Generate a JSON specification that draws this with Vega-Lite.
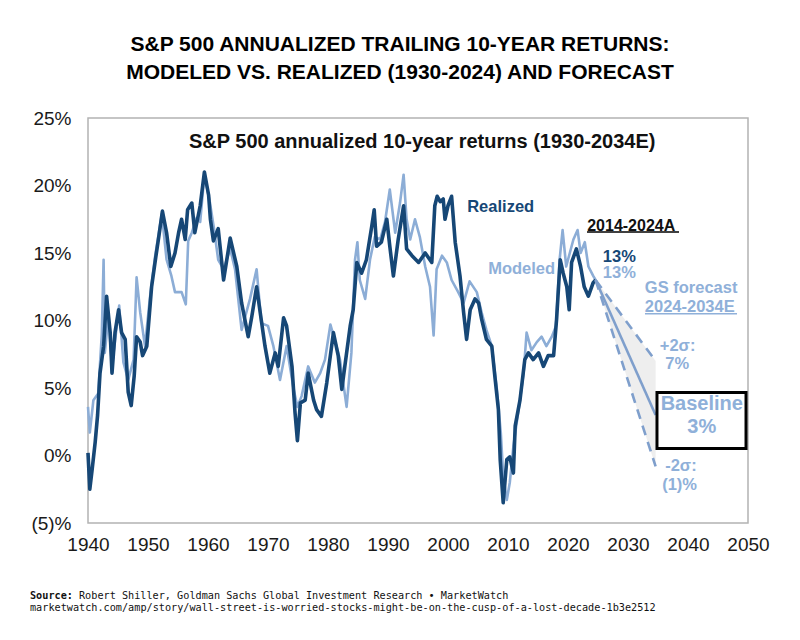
{
  "$schema": "https://vega.github.io/schema/vega-lite/v6.json",
  "width": 660,
  "height": 405,
  "autosize": {"type": "none"},
  "padding": {"left": 88, "top": 118, "right": 52, "bottom": 117},
  "background": "white",
  "config": {
    "view": {"stroke": "#b3b3b3", "strokeWidth": 1.5},
    "font": "Liberation Sans"
  },
  "title": {
    "text": ["S&P 500 ANNUALIZED TRAILING 10-YEAR RETURNS:", "MODELED VS. REALIZED (1930-2024) AND FORECAST"],
    "font": "Liberation Sans",
    "fontSize": 21,
    "fontWeight": "bold",
    "color": "#000000",
    "anchor": "middle",
    "frame": "group",
    "dx": -18,
    "offset": 26,
    "lineHeight": 28
  },
  "datasets": {
    "realized": [
      {"year": 1940.0, "pct": 0.2}, {"year": 1940.3, "pct": -2.5}, {"year": 1940.7, "pct": -1.0}, {"year": 1941.2, "pct": 1.0},
      {"year": 1941.6, "pct": 3.0}, {"year": 1942.0, "pct": 6.1}, {"year": 1942.6, "pct": 8.1}, {"year": 1943.1, "pct": 11.8},
      {"year": 1943.7, "pct": 9.1}, {"year": 1944.0, "pct": 6.1}, {"year": 1944.5, "pct": 9.1}, {"year": 1945.1, "pct": 10.8},
      {"year": 1945.6, "pct": 9.1}, {"year": 1946.2, "pct": 8.6}, {"year": 1946.7, "pct": 4.7}, {"year": 1947.2, "pct": 3.7},
      {"year": 1947.7, "pct": 5.9}, {"year": 1948.1, "pct": 8.8}, {"year": 1948.7, "pct": 8.4}, {"year": 1949.1, "pct": 7.4},
      {"year": 1949.8, "pct": 8.1}, {"year": 1950.6, "pct": 12.5}, {"year": 1951.3, "pct": 14.7}, {"year": 1951.8, "pct": 16.2},
      {"year": 1952.4, "pct": 18.1}, {"year": 1953.1, "pct": 16.5}, {"year": 1953.8, "pct": 14.0}, {"year": 1954.5, "pct": 15.0},
      {"year": 1955.1, "pct": 16.5}, {"year": 1955.6, "pct": 17.5}, {"year": 1956.2, "pct": 16.0}, {"year": 1956.6, "pct": 18.2},
      {"year": 1957.3, "pct": 18.7}, {"year": 1957.8, "pct": 16.5}, {"year": 1958.7, "pct": 18.5}, {"year": 1959.4, "pct": 21.0},
      {"year": 1960.1, "pct": 19.3}, {"year": 1960.4, "pct": 17.5}, {"year": 1960.9, "pct": 15.9}, {"year": 1961.7, "pct": 16.8},
      {"year": 1962.6, "pct": 13.0}, {"year": 1963.7, "pct": 16.1}, {"year": 1964.8, "pct": 14.0}, {"year": 1965.6, "pct": 11.3},
      {"year": 1966.7, "pct": 8.8}, {"year": 1967.3, "pct": 10.3}, {"year": 1968.1, "pct": 12.5}, {"year": 1968.7, "pct": 10.6},
      {"year": 1969.5, "pct": 8.1}, {"year": 1970.3, "pct": 6.1}, {"year": 1971.2, "pct": 7.6}, {"year": 1971.7, "pct": 6.6},
      {"year": 1972.6, "pct": 10.2}, {"year": 1973.1, "pct": 9.6}, {"year": 1974.0, "pct": 6.6}, {"year": 1974.5, "pct": 3.2},
      {"year": 1974.9, "pct": 1.1}, {"year": 1975.4, "pct": 3.9}, {"year": 1976.2, "pct": 4.1}, {"year": 1976.7, "pct": 6.1},
      {"year": 1977.6, "pct": 4.1}, {"year": 1978.1, "pct": 3.4}, {"year": 1978.9, "pct": 2.9}, {"year": 1979.8, "pct": 5.4},
      {"year": 1980.9, "pct": 9.1}, {"year": 1981.7, "pct": 7.4}, {"year": 1982.3, "pct": 4.9}, {"year": 1982.8, "pct": 6.6},
      {"year": 1983.7, "pct": 9.6}, {"year": 1984.2, "pct": 10.8}, {"year": 1984.8, "pct": 14.3}, {"year": 1985.6, "pct": 13.5},
      {"year": 1986.4, "pct": 14.5}, {"year": 1987.3, "pct": 17.0}, {"year": 1987.7, "pct": 18.2}, {"year": 1988.1, "pct": 15.5},
      {"year": 1988.9, "pct": 15.8}, {"year": 1989.8, "pct": 17.5}, {"year": 1990.3, "pct": 15.5}, {"year": 1990.9, "pct": 13.3},
      {"year": 1991.7, "pct": 16.0}, {"year": 1992.6, "pct": 18.5}, {"year": 1993.1, "pct": 15.3}, {"year": 1994.0, "pct": 14.8},
      {"year": 1995.1, "pct": 14.3}, {"year": 1996.2, "pct": 15.0}, {"year": 1997.3, "pct": 14.3}, {"year": 1997.8, "pct": 18.5},
      {"year": 1998.2, "pct": 19.2}, {"year": 1998.7, "pct": 18.8}, {"year": 1999.2, "pct": 19.0}, {"year": 1999.5, "pct": 17.5},
      {"year": 2000.0, "pct": 18.5}, {"year": 2000.6, "pct": 19.2}, {"year": 2001.2, "pct": 15.8}, {"year": 2002.0, "pct": 13.3},
      {"year": 2002.6, "pct": 10.6}, {"year": 2003.1, "pct": 8.6}, {"year": 2003.7, "pct": 10.8}, {"year": 2004.5, "pct": 11.6},
      {"year": 2005.1, "pct": 11.3}, {"year": 2005.6, "pct": 10.1}, {"year": 2006.4, "pct": 8.6}, {"year": 2007.3, "pct": 8.1},
      {"year": 2007.8, "pct": 5.9}, {"year": 2008.4, "pct": 3.4}, {"year": 2008.7, "pct": -0.3}, {"year": 2009.2, "pct": -3.5},
      {"year": 2009.8, "pct": -0.3}, {"year": 2010.3, "pct": -0.1}, {"year": 2010.9, "pct": -1.3}, {"year": 2011.2, "pct": 2.2},
      {"year": 2012.0, "pct": 4.1}, {"year": 2012.8, "pct": 7.1}, {"year": 2013.4, "pct": 7.6}, {"year": 2014.2, "pct": 7.1},
      {"year": 2015.1, "pct": 7.6}, {"year": 2015.9, "pct": 6.6}, {"year": 2016.7, "pct": 7.4}, {"year": 2017.6, "pct": 7.4},
      {"year": 2018.1, "pct": 10.1}, {"year": 2018.7, "pct": 14.5}, {"year": 2019.2, "pct": 13.5}, {"year": 2019.8, "pct": 12.5},
      {"year": 2020.2, "pct": 10.8}, {"year": 2020.6, "pct": 14.3}, {"year": 2021.4, "pct": 15.3}, {"year": 2022.1, "pct": 14.0},
      {"year": 2022.7, "pct": 12.5}, {"year": 2023.4, "pct": 11.8}, {"year": 2024.2, "pct": 12.8}, {"year": 2024.6, "pct": 13.0}
    ],
    "modeled": [
      {"year": 1940.0, "pct": 3.6}, {"year": 1940.3, "pct": 1.7}, {"year": 1940.9, "pct": 4.1}, {"year": 1941.7, "pct": 4.6},
      {"year": 1942.3, "pct": 9.0}, {"year": 1942.6, "pct": 14.5}, {"year": 1942.8, "pct": 7.6}, {"year": 1943.4, "pct": 10.3},
      {"year": 1944.0, "pct": 6.6}, {"year": 1944.8, "pct": 9.6}, {"year": 1945.2, "pct": 11.1}, {"year": 1945.9, "pct": 6.9},
      {"year": 1946.7, "pct": 5.6}, {"year": 1947.6, "pct": 7.1}, {"year": 1948.1, "pct": 13.2}, {"year": 1948.7, "pct": 10.6},
      {"year": 1949.5, "pct": 8.1}, {"year": 1950.3, "pct": 11.6}, {"year": 1951.2, "pct": 14.8}, {"year": 1952.3, "pct": 17.9},
      {"year": 1953.1, "pct": 14.5}, {"year": 1953.9, "pct": 13.3}, {"year": 1954.5, "pct": 12.1}, {"year": 1955.6, "pct": 12.1},
      {"year": 1956.3, "pct": 11.2}, {"year": 1956.7, "pct": 15.9}, {"year": 1957.3, "pct": 16.5}, {"year": 1958.1, "pct": 17.6},
      {"year": 1958.7, "pct": 17.3}, {"year": 1959.4, "pct": 20.8}, {"year": 1960.3, "pct": 18.8}, {"year": 1961.0, "pct": 16.8},
      {"year": 1961.7, "pct": 14.5}, {"year": 1962.6, "pct": 13.8}, {"year": 1963.7, "pct": 15.3}, {"year": 1964.5, "pct": 13.8},
      {"year": 1965.6, "pct": 9.3}, {"year": 1967.0, "pct": 11.6}, {"year": 1968.1, "pct": 13.8}, {"year": 1968.9, "pct": 9.8},
      {"year": 1970.0, "pct": 9.6}, {"year": 1970.9, "pct": 8.1}, {"year": 1972.0, "pct": 5.6}, {"year": 1973.1, "pct": 8.1},
      {"year": 1974.2, "pct": 5.1}, {"year": 1974.9, "pct": 3.6}, {"year": 1975.6, "pct": 4.4}, {"year": 1976.7, "pct": 6.6},
      {"year": 1977.8, "pct": 5.4}, {"year": 1978.7, "pct": 6.1}, {"year": 1979.5, "pct": 7.1}, {"year": 1980.4, "pct": 9.7},
      {"year": 1981.4, "pct": 8.1}, {"year": 1982.0, "pct": 7.1}, {"year": 1983.1, "pct": 3.6}, {"year": 1983.9, "pct": 7.6},
      {"year": 1984.5, "pct": 14.5}, {"year": 1984.9, "pct": 15.8}, {"year": 1985.3, "pct": 13.0}, {"year": 1986.2, "pct": 11.6},
      {"year": 1987.0, "pct": 14.5}, {"year": 1987.8, "pct": 16.2}, {"year": 1988.7, "pct": 16.0}, {"year": 1989.5, "pct": 17.3},
      {"year": 1990.3, "pct": 19.7}, {"year": 1991.2, "pct": 16.5}, {"year": 1992.0, "pct": 18.7}, {"year": 1992.6, "pct": 20.8},
      {"year": 1993.1, "pct": 17.5}, {"year": 1993.7, "pct": 16.0}, {"year": 1994.5, "pct": 17.5}, {"year": 1995.3, "pct": 16.2},
      {"year": 1996.2, "pct": 14.0}, {"year": 1997.0, "pct": 12.5}, {"year": 1997.6, "pct": 8.9}, {"year": 1998.1, "pct": 13.8},
      {"year": 1999.0, "pct": 14.8}, {"year": 1999.8, "pct": 14.3}, {"year": 2000.6, "pct": 13.0}, {"year": 2001.7, "pct": 12.1},
      {"year": 2002.6, "pct": 11.3}, {"year": 2003.6, "pct": 12.9}, {"year": 2004.8, "pct": 12.1}, {"year": 2005.6, "pct": 10.6},
      {"year": 2006.4, "pct": 9.3}, {"year": 2007.3, "pct": 8.1}, {"year": 2008.1, "pct": 5.1}, {"year": 2008.8, "pct": 1.7},
      {"year": 2009.2, "pct": -1.5}, {"year": 2009.8, "pct": -3.3}, {"year": 2010.3, "pct": -2.0}, {"year": 2010.9, "pct": 0.7},
      {"year": 2011.7, "pct": 3.2}, {"year": 2012.6, "pct": 6.1}, {"year": 2013.1, "pct": 9.1}, {"year": 2013.9, "pct": 7.8},
      {"year": 2014.8, "pct": 8.4}, {"year": 2015.6, "pct": 8.8}, {"year": 2016.4, "pct": 8.1}, {"year": 2017.3, "pct": 8.8},
      {"year": 2018.0, "pct": 9.6}, {"year": 2018.6, "pct": 14.5}, {"year": 2019.1, "pct": 16.7}, {"year": 2019.7, "pct": 14.0},
      {"year": 2020.3, "pct": 15.0}, {"year": 2020.9, "pct": 16.0}, {"year": 2021.6, "pct": 16.7}, {"year": 2022.1, "pct": 15.0},
      {"year": 2022.8, "pct": 15.8}, {"year": 2023.4, "pct": 14.0}, {"year": 2024.2, "pct": 13.3}, {"year": 2024.6, "pct": 13.0}
    ],
    "forecast": [
      {"year": 2024.6, "base": 13.0, "upper": 13.0, "lower": 13.0},
      {"year": 2034.6, "base": 3.0, "upper": 7.0, "lower": -0.8}
    ],
    "labels": [
      {"kind": "panel", "year": 1995.7, "pct": 23.2, "text": "S&P 500 annualized 10-year returns (1930-2034E)"},
      {"kind": "dark", "year": 2003.2, "pct": 18.4, "text": "Realized"},
      {"kind": "light", "year": 2006.7, "pct": 13.8, "text": "Modeled"},
      {"kind": "black", "year": 2023.2, "pct": 17.0, "text": "2014-2024A"},
      {"kind": "dark", "year": 2025.8, "pct": 14.7, "text": "13%"},
      {"kind": "light", "year": 2025.8, "pct": 13.5, "text": "13%"},
      {"kind": "light", "year": 2032.8, "pct": 12.4, "text": "GS forecast"},
      {"kind": "light", "year": 2032.8, "pct": 11.0, "text": "2024-2034E"},
      {"kind": "light", "year": 2035.3, "pct": 8.1, "text": "+2σ:"},
      {"kind": "light", "year": 2036.2, "pct": 6.8, "text": "7%"},
      {"kind": "box", "year": 2042.3, "pct": 3.85, "text": "Baseline"},
      {"kind": "box", "year": 2042.3, "pct": 2.1, "text": "3%"},
      {"kind": "light", "year": 2036.2, "pct": -0.8, "text": "-2σ:"},
      {"kind": "light", "year": 2035.7, "pct": -2.2, "text": "(1)%"},
      {"kind": "srcbold", "year": 1930.33, "pct": -10.44, "text": "Source:"},
      {"kind": "src1", "year": 1930.33, "pct": -10.44, "text": "Robert Shiller, Goldman Sachs Global Investment Research • MarketWatch"},
      {"kind": "src2", "year": 1930.33, "pct": -11.33, "text": "marketwatch.com/amp/story/wall-street-is-worried-stocks-might-be-on-the-cusp-of-a-lost-decade-1b3e2512"}
    ]
  },
  "encoding": {
    "x": {
      "field": "year",
      "type": "quantitative",
      "scale": {"domain": [1940, 2050], "nice": false, "zero": false},
      "axis": {
        "title": null,
        "values": [1940, 1950, 1960, 1970, 1980, 1990, 2000, 2010, 2020, 2030, 2040, 2050],
        "format": "d",
        "grid": false,
        "ticks": false,
        "domain": false,
        "labelFont": "Liberation Sans",
        "labelFontSize": 19,
        "labelColor": "#1a1a1a",
        "labelPadding": 12,
        "labelFlush": false,
        "labelOverlap": false,
        "labelBound": false
      }
    },
    "y": {
      "field": "pct",
      "type": "quantitative",
      "scale": {"domain": [-5, 25], "nice": false, "zero": false},
      "axis": {
        "title": null,
        "values": [-5, 0, 5, 10, 15, 20, 25],
        "labelExpr": "datum.value < 0 ? '(' + abs(datum.value) + ')%' : datum.value + '%'",
        "grid": false,
        "ticks": false,
        "domain": false,
        "labelFont": "Liberation Sans",
        "labelFontSize": 19,
        "labelColor": "#1a1a1a",
        "labelPadding": 17,
        "labelFlush": false,
        "labelOverlap": false,
        "labelBound": false
      }
    }
  },
  "layer": [
    {
      "data": {"name": "forecast"},
      "mark": {"type": "area", "color": "#eeeeee", "opacity": 1},
      "encoding": {"y": {"field": "upper", "type": "quantitative"}, "y2": {"field": "lower"}}
    },
    {
      "data": {"values": [{"pct": 0}]},
      "mark": {"type": "rule", "color": "#a6a6a6", "strokeWidth": 1.3},
      "encoding": {"x": {"datum": 1940}, "x2": {"datum": 2050}, "y": {"datum": 0}}
    },
    {
      "data": {"name": "modeled"},
      "mark": {"type": "line", "color": "#8cadd6", "strokeWidth": 2.6, "strokeJoin": "round"},
      "encoding": {}
    },
    {
      "data": {"name": "realized"},
      "mark": {"type": "line", "color": "#164776", "strokeWidth": 3.6, "strokeJoin": "round"},
      "encoding": {}
    },
    {
      "data": {"name": "forecast"},
      "mark": {"type": "line", "color": "#7f9fcc", "strokeWidth": 2.6},
      "encoding": {"y": {"field": "base", "type": "quantitative"}}
    },
    {
      "data": {"name": "forecast"},
      "mark": {"type": "line", "color": "#7f9fcc", "strokeWidth": 2.6, "strokeDash": [10, 7]},
      "encoding": {"y": {"field": "upper", "type": "quantitative"}}
    },
    {
      "data": {"name": "forecast"},
      "mark": {"type": "line", "color": "#7f9fcc", "strokeWidth": 2.6, "strokeDash": [10, 7]},
      "encoding": {"y": {"field": "lower", "type": "quantitative"}}
    },
    {
      "data": {"values": [{"year": 2034.83, "year2": 2049.67, "pct": 4.67, "pct2": 0.52}]},
      "mark": {"type": "rect", "fill": "white", "stroke": "#000000", "strokeWidth": 3},
      "encoding": {"x2": {"field": "year2"}, "y2": {"field": "pct2"}}
    },
    {
      "data": {"values": [{"year": 2023.17, "year2": 2038.5, "pct": 16.55}]},
      "mark": {"type": "rule", "color": "#000000", "strokeWidth": 1.5},
      "encoding": {"x2": {"field": "year2"}}
    },
    {
      "data": {"values": [{"year": 2032.83, "year2": 2048.17, "pct": 10.5}]},
      "mark": {"type": "rule", "color": "#8fb0d9", "strokeWidth": 1.5},
      "encoding": {"x2": {"field": "year2"}}
    },
    {
      "data": {"name": "labels"},
      "transform": [{"filter": "datum.kind === 'panel'"}],
      "mark": {"type": "text", "align": "center", "baseline": "middle", "font": "Liberation Sans", "fontWeight": "bold", "fontSize": 20, "color": "#111111"},
      "encoding": {"text": {"field": "text"}}
    },
    {
      "data": {"name": "labels"},
      "transform": [{"filter": "datum.kind === 'dark'"}],
      "mark": {"type": "text", "align": "left", "baseline": "middle", "font": "Liberation Sans", "fontWeight": "bold", "fontSize": 16.5, "color": "#164776"},
      "encoding": {"text": {"field": "text"}}
    },
    {
      "data": {"name": "labels"},
      "transform": [{"filter": "datum.kind === 'light'"}],
      "mark": {"type": "text", "align": "left", "baseline": "middle", "font": "Liberation Sans", "fontWeight": "bold", "fontSize": 16.5, "color": "#8fb0d9"},
      "encoding": {"text": {"field": "text"}}
    },
    {
      "data": {"name": "labels"},
      "transform": [{"filter": "datum.kind === 'black'"}],
      "mark": {"type": "text", "align": "left", "baseline": "middle", "font": "Liberation Sans", "fontWeight": "bold", "fontSize": 16, "color": "#111111"},
      "encoding": {"text": {"field": "text"}}
    },
    {
      "data": {"name": "labels"},
      "transform": [{"filter": "datum.kind === 'box'"}],
      "mark": {"type": "text", "align": "center", "baseline": "middle", "font": "Liberation Sans", "fontWeight": "bold", "fontSize": 20, "color": "#8fb0d9"},
      "encoding": {"text": {"field": "text"}}
    },
    {
      "data": {"name": "labels"},
      "transform": [{"filter": "datum.kind === 'srcbold'"}],
      "mark": {"type": "text", "align": "left", "baseline": "middle", "font": "DejaVu Sans Mono", "fontWeight": "bold", "fontSize": 10.2, "color": "#111111"},
      "encoding": {"text": {"field": "text"}}
    },
    {
      "data": {"name": "labels"},
      "transform": [{"filter": "datum.kind === 'src1'"}],
      "mark": {"type": "text", "align": "left", "baseline": "middle", "dx": 49, "font": "DejaVu Sans Mono", "fontSize": 10.2, "color": "#111111"},
      "encoding": {"text": {"field": "text"}}
    },
    {
      "data": {"name": "labels"},
      "transform": [{"filter": "datum.kind === 'src2'"}],
      "mark": {"type": "text", "align": "left", "baseline": "middle", "font": "DejaVu Sans Mono", "fontSize": 10.2, "color": "#111111"},
      "encoding": {"text": {"field": "text"}}
    }
  ]
}
